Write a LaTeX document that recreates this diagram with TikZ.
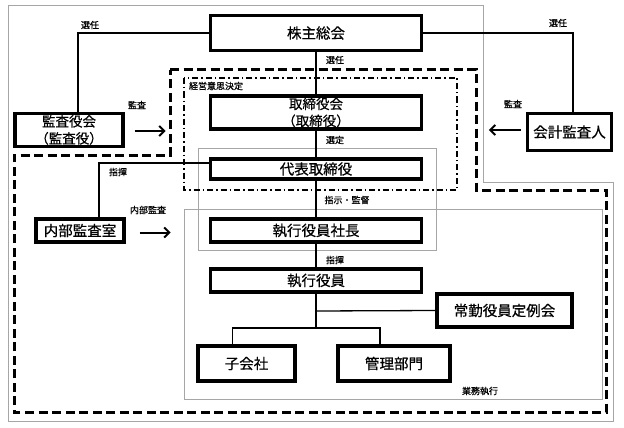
\documentclass[tikz,border=0pt]{standalone}
\usepackage{fontspec}
\setmainfont{Noto Sans CJK JP}
\newfontfamily\boxfont[FakeBold=0.6]{Noto Sans CJK JP}
\usetikzlibrary{arrows.meta}
\begin{document}
\begin{tikzpicture}[x=1pt,y=-1pt,
  box/.style={draw,line width=3.2pt,inner sep=0pt,align=center,font=\boxfont\fontsize{14.5}{15.5}\selectfont},
  twoline/.style={font=\boxfont\fontsize{13.5}{17}\selectfont},
  lbl/.style={inner sep=1pt,font=\boxfont\fontsize{9}{10}\selectfont},
  link/.style={line width=1.3pt},
  arr/.style={line width=2pt,-{Straight Barb[length=5pt,width=10pt]}},
  grp/.style={draw=gray!70,line width=1pt},
  area/.style={line width=3pt,dash pattern=on 9pt off 4.5pt},
  plan/.style={line width=1.5pt,dash pattern=on 6pt off 3pt on 1.5pt off 3pt}]
\useasboundingbox (0,0) rectangle (624,428);
\draw[grp] (8,6) -- (483,6) -- (483,182) -- (613,182) -- (613,421) -- (8,421) -- cycle;
\draw[grp] (198,148) rectangle (436,250);
\draw[grp] (184,209) rectangle (602,399);
\draw[area] (170,70) -- (476,70) -- (476,190) -- (606,190) -- (606,412) -- (14,412) -- (14,155) -- (170,155) -- cycle;
\draw[plan] (184,78) rectangle (457,190);
\node[box,minimum width=211,minimum height=35] (kabu) at (316,33) {株主総会};
\node[box,twoline,minimum width=211,minimum height=33] (tori) at (316,112.5) {取締役会\\（取締役）};
\node[box,minimum width=211,minimum height=20] (daihyo) at (316,169) {代表取締役};
\node[box,minimum width=211,minimum height=23] (shacho) at (316,230.5) {執行役員社長};
\node[box,minimum width=211,minimum height=23] (yakuin) at (316,280.5) {執行役員};
\node[box,twoline,minimum width=108,minimum height=33] (kansa) at (69,130) {監査役会\\（監査役）};
\node[box,minimum width=84,minimum height=37] (kaikei) at (569.5,132) {会計監査人};
\node[box,minimum width=88,minimum height=23] (naibu) at (80,230.5) {内部監査室};
\node[box,minimum width=135,minimum height=33] (jokin) at (504.5,310.5) {常勤役員定例会};
\node[box,minimum width=97,minimum height=35] (kogai) at (246.5,363.5) {子会社};
\node[box,minimum width=112,minimum height=35] (kanri) at (394,363.5) {管理部門};
\coordinate (jk) at (316,311);
\coordinate (fork) at (316,328);
\draw[link] (kabu) -- (tori) -- (daihyo) -- (shacho) -- (yakuin) -- (fork);
\draw[link] (kabu.west) -| ([xshift=9pt]kansa.north);
\draw[link] (kabu.east) -| ([xshift=3.5pt]kaikei.north);
\draw[link] ([yshift=6pt]daihyo.west) -| ([xshift=19pt]naibu.north);
\draw[link] (jk) -- (jokin.west);
\draw[link] ([xshift=-14pt]kogai.north) |- (fork) -| ([xshift=-14pt]kanri.north);
\draw[arr] ([shift={(10pt,-1pt)}]kansa.east) -- ++(31,0);
\draw[arr] ([shift={(-5pt,2pt)}]kaikei.west) -- ++(-32,0);
\draw[arr] ([shift={(14pt,-2pt)}]naibu.east) -- ++(31,0);
\node[lbl] (sen1) at (90,25) {選任};
\node[lbl] (sen2) at (558,23) {選任};
\node[lbl] (sen3) at (335,60) {選任};
\node[lbl] (kan1) at (137,105) {監査};
\node[lbl] (kan2) at (513,104) {監査};
\node[lbl] (keiei) at (216,86) {経営意思決定};
\node[lbl] (sentei) at (335,140) {選定};
\node[lbl] (shiki1) at (118,172) {指揮};
\node[lbl] (shiji) at (347,200) {指示・監督};
\node[lbl] (naikan) at (148,210) {内部監査};
\node[lbl] (shiki2) at (335,260) {指揮};
\node[lbl] (gyomu) at (480,391) {業務執行};
\end{tikzpicture}
\end{document}
